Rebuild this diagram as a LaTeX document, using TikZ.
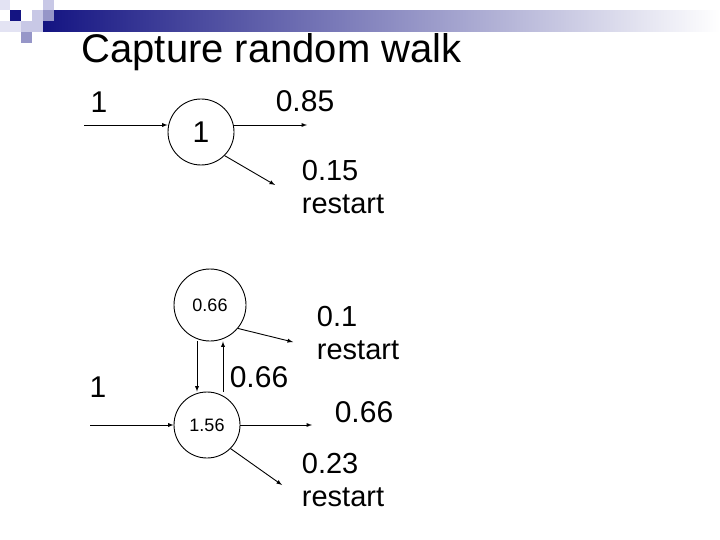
\documentclass[tikz,border=0pt]{standalone}
\usepackage{fontspec}
\setmainfont{Liberation Sans}
\begin{document}
\begin{tikzpicture}[x=1pt,y=-1pt,
  st/.style={draw,circle,line width=0.9pt,minimum size=66pt,inner sep=0pt},
  ar/.style={-latex,line width=0.9pt},
  lb/.style={font=\fontsize{30}{30}\selectfont,anchor=center},
  lb2/.style={font=\fontsize{29}{33}\selectfont,align=left,anchor=center}]
\useasboundingbox (0,0) rectangle (720,540);
\definecolor{navy}{RGB}{20,20,130}
\definecolor{lav}{RGB}{200,200,230}
\definecolor{mid}{RGB}{150,150,200}
\shade[left color=navy,right color=white] (43,11) rectangle (720,32);
\fill[navy] (10,10) rectangle (21,21);
\fill[lav!50] (0,0) rectangle (10,10);
\fill[lav] (21,21) rectangle (32,32);
\fill[lav] (32,10) rectangle (43,21);
\fill[lav] (43,0) rectangle (54,10);
\fill[mid] (43,10) rectangle (54,21);
\fill[lav] (32,21) rectangle (43,32);
\fill[mid] (21,32) rectangle (32,43);
\fill[lav!50] (0,21) rectangle (21,32);
\node[anchor=west,font=\fontsize{40}{40}\selectfont] (title) at (78,52) {Capture random walk};
% top
\node[st] (a) at (201,132) {\fontsize{30}{30}\selectfont 1};
\coordinate (ain) at (84,125);
\coordinate (aout) at (307,125);
\coordinate (ad) at (275,185);
\draw[ar] (ain) -- (a.west |- ain);
\draw[ar] (a.east |- aout) -- (aout);
\draw[ar] (a.-45) -- (ad);
\node[lb] (l1) at (99,102) {1};
\node[lb] (l2) at (305,101) {0.85};
\node[lb2] (l3) at (343,187) {0.15\\restart};
% bottom
\node[st,minimum size=72pt] (b) at (210,305) {\fontsize{18}{18}\selectfont 0.66};
\node[st] (c) at (207,425) {\fontsize{18}{18}\selectfont 1.56};
\draw[ar] ([xshift=-13pt]b.south) -- ([xshift=-10pt]c.north);
\draw[ar] ([xshift=16pt]c.north) -- ([xshift=13pt]b.south);
\draw[ar] (b.-40) -- (293,342) coordinate (bd);
\coordinate (cin) at (90,425);
\coordinate (cout) at (312,425);
\draw[ar] (cin) -- (c.west);
\draw[ar] (c.east) -- (cout);
\draw[ar] (c.-45) -- (282,485) coordinate (cd);
\node[lb] (m1) at (259,377) {0.66};
\node[lb2] (m2) at (358,333) {0.1\\restart};
\node[lb] (m3) at (98,387) {1};
\node[lb] (m4) at (364,412) {0.66};
\node[lb2] (m5) at (343,480) {0.23\\restart};
\end{tikzpicture}
\end{document}
